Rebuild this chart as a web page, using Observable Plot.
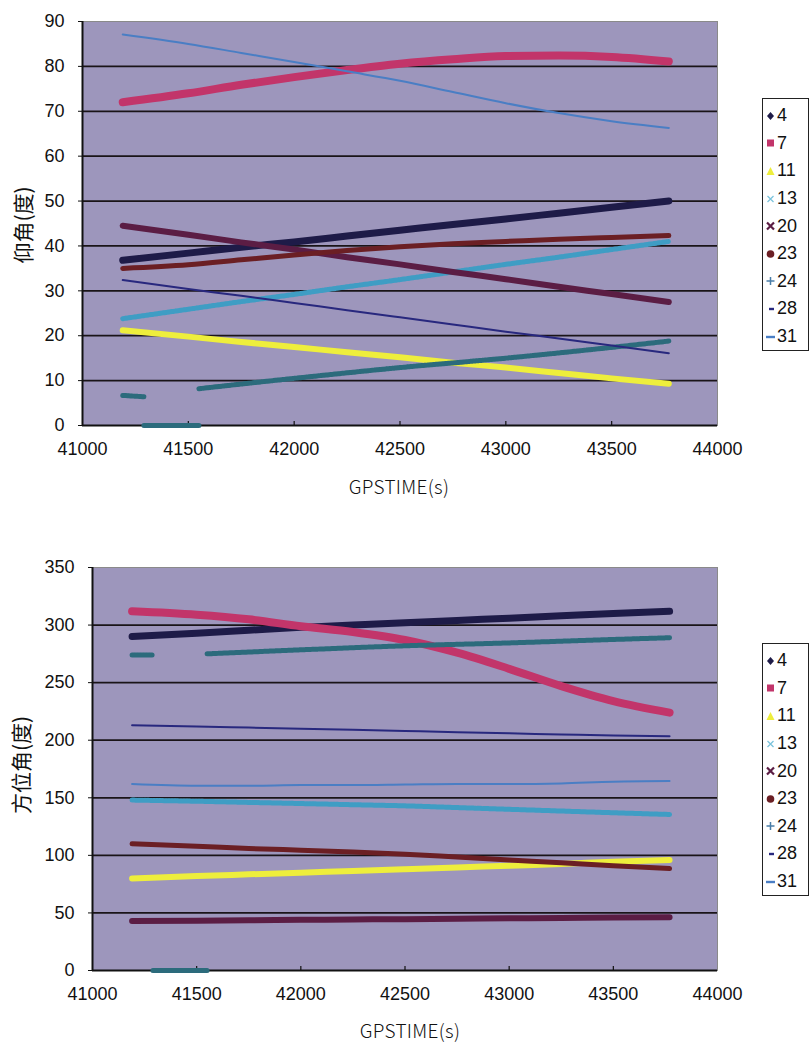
<!DOCTYPE html>
<html><head><meta charset="utf-8">
<script src="https://cdn.jsdelivr.net/npm/d3@7"></script>
<script src="https://cdn.jsdelivr.net/npm/@observablehq/plot@0.6"></script>
<style>
body{margin:0;background:#fff;}
#root{position:relative;width:812px;height:1045px;overflow:hidden;font-family:Arial,"Liberation Sans",sans-serif;}
.chart{position:absolute;left:0;}
.legend{position:absolute;left:762px;width:47px;border:1.5px solid #222;background:#fff;box-sizing:border-box;padding-top:3px;}
.legend .row{display:flex;align-items:center;height:27.6px;font-size:18px;color:#111;}
.legend svg{width:9px;height:10px;margin-left:3px;margin-right:2px;}
.ytitle{position:absolute;font-family:"Noto Sans CJK SC",sans-serif;font-size:21px;color:#111;transform:rotate(-90deg);transform-origin:center;white-space:nowrap;line-height:24px;height:24px;}
.xtitle{position:absolute;font-family:"Noto Sans CJK JP",sans-serif;font-weight:300;font-size:19px;color:#111;white-space:nowrap;transform:translateX(-50%);letter-spacing:0.3px;line-height:22px;}
</style></head>
<body><div id="root"></div>
<script>
// ---- series ----
const SERIES = ["4","7","11","13","20","23","24","28","31"];
const COLORS = ["#1e1b48","#c2356a","#eeee3c","#3f9dc4","#5b1d44","#6b1f24","#2c6b7c","#28287e","#4a7ec4"];
const WIDTHS = [7,8,6,5,6,5,5,2,2];
const DASH   = [null,null,null,"2,1",null,null,"2,1",null,null];

// ---- time samples (s) ----
const T = [41190,41500,41750,42000,42250,42500,42750,43000,43250,43500,43770];

// ---- elevation (deg) ----
const elev4  = [36.8,38.4,39.7,40.9,42.2,43.5,44.8,46.0,47.3,48.6,50.0];
const elev7  = [72.0,74.0,75.9,77.6,79.2,80.6,81.6,82.3,82.4,82.1,81.1];
const elev11 = [21.2,19.8,18.6,17.5,16.3,15.2,14.0,12.9,11.7,10.5,9.3];
const elev13 = [23.8,25.9,27.6,29.2,30.9,32.5,34.2,35.9,37.5,39.2,41.0];
const elev20 = [44.5,42.5,40.8,39.2,37.5,35.9,34.2,32.6,30.9,29.3,27.5];
const elev23 = [35.0,35.8,36.9,38.0,39.0,39.8,40.5,41.0,41.5,41.9,42.3];
const elev28 = [32.4,30.4,28.9,27.3,25.7,24.1,22.5,20.9,19.4,17.8,16.1];
const elev31 = [87.1,85.0,83.0,81.0,78.9,76.8,74.3,71.8,69.6,67.8,66.3];
// satellite 24 has gaps (zeros while not tracked)
const t24    = [[41190,41290],[41290,41550],[41550,42000,42500,43000,43500,43770]];
const elev24 = [[6.7,6.4],[0,0],[8.2,10.5,12.9,15.0,17.4,18.8]];

// ---- azimuth (deg) ----
const azi4  = [290,293,295.5,298,300,302,304,306,308,310,312];
const azi7  = [312,309,305,299,294,287,276,262,247,234,224];
const azi11 = [80,82,83.5,85,86.5,88,89.5,91,92.5,94.5,96];
const azi13 = [148,147,146,145,144,143,141.5,140,138.5,137,135.5];
const azi20 = [43,43.3,43.6,44,44.3,44.6,45,45.3,45.6,46,46.2];
const azi23 = [110,108,106,104.5,103,101,98.5,96,93.5,91,88.5];
const azi28 = [213,212,211,210,209,208,207,206,205,204,203.5];
const azi31 = [162,160.5,160.5,161,161,161.5,162,162,162.5,164,164.5];
const azi24 = [[274,274],[0,0],[275,278.5,282,284.5,287.5,289]];

// ---- ticks ----
const xTicks = [41000,41500,42000,42500,43000,43500,44000];
const elevTicks = [0,10,20,30,40,50,60,70,80,90];
const aziTicks = [0,50,100,150,200,250,300,350];

const BG = "#9d96bc";

function buildRows(vals, v24){
  const rows = [];
  SERIES.forEach((s,i)=>{
    if (s === "24") {
      t24.forEach((ts,k)=>ts.forEach((t,j)=>rows.push({s, seg:s+"_"+k, t, v:v24[k][j]})));
    } else {
      T.forEach((t,j)=>rows.push({s, seg:s, t, v:vals[i][j]}));
    }
  });
  return rows;
}

function chart({rows, yDomain, yTicks, marginLeft, marginTop, plotH, tickLen}){
  const marks = [
    Plot.frame({fill:BG, stroke:"#8a8a8a", strokeWidth:1}),
    Plot.ruleY(yTicks.slice(1,-1), {stroke:"#1a1418", strokeWidth:1.8}),
    Plot.ruleX(xTicks.slice(1,-1), {y1:yDomain[0], y2:yDomain[1]*tickLen, stroke:"#111", strokeWidth:1.2}),
    Plot.ruleY([yDomain[0]], {stroke:"#111", strokeWidth:2}),
    Plot.ruleX([xTicks[0]], {stroke:"#111", strokeWidth:2}),
    Plot.axisX({ticks:xTicks, tickSize:0, tickPadding:17, tickFormat:d=>String(d), fontSize:18, label:null}),
    Plot.axisY({ticks:yTicks, tickSize:4, tickPadding:14, tickFormat:d=>String(d), fontSize:18, label:null})
  ];
  SERIES.forEach((s,i)=>{
    marks.push(Plot.line(rows.filter(r=>r.s===s), {
      x:"t", y:"v", z:"seg", stroke:COLORS[i], strokeWidth:WIDTHS[i],
      strokeLinecap:"round", strokeLinejoin:"round", strokeDasharray:DASH[i], curve:"monotone-x"
    }));
  });
  return Plot.plot({
    width:740, height: marginTop+plotH+45,
    marginLeft, marginRight:23, marginTop, marginBottom:45,
    x:{domain:[41000,44000]}, y:{domain:yDomain},
    style:{fontFamily:"Arial, 'Liberation Sans', sans-serif", color:"#111", background:"transparent", overflow:"visible"},
    marks
  });
}

const root = document.getElementById("root");

const chartTop = chart({
  rows: buildRows([elev4,elev7,elev11,elev13,elev20,elev23,null,elev28,elev31], elev24),
  yDomain:[0,90], yTicks:elevTicks, marginLeft:82, marginTop:21, plotH:404, tickLen:0.01
});
chartTop.classList.add("chart"); chartTop.style.top = "0px"; root.appendChild(chartTop);

const chartBottom = chart({
  rows: buildRows([azi4,azi7,azi11,azi13,azi20,azi23,null,azi28,azi31], azi24),
  yDomain:[0,350], yTicks:aziTicks, marginLeft:92, marginTop:27, plotH:403, tickLen:0.01
});
chartBottom.classList.add("chart"); chartBottom.style.top = "540px"; root.appendChild(chartBottom);

// ---- titles ----
function addDiv(cls, text, css){
  const d = document.createElement("div"); d.className = cls; d.textContent = text;
  Object.assign(d.style, css); root.appendChild(d); return d;
}
addDiv("ytitle","仰角(度)",{left:"-28px", top:"213px", width:"100px", textAlign:"center"});
addDiv("ytitle","方位角(度)",{left:"-40px", top:"753px", width:"120px", textAlign:"center"});
addDiv("xtitle","GPSTIME(s)",{left:"399px", top:"475px"});
addDiv("xtitle","GPSTIME(s)",{left:"410px", top:"1019px"});

// ---- legends ----
const SYMBOLS = [
  c=>`<path d="M4.5 1 L8 5 L4.5 9 L1 5Z" fill="${c}"/>`,
  c=>`<rect x="1" y="1.5" width="7" height="7" fill="${c}"/>`,
  c=>`<path d="M4.5 1 L8.5 9 L0.5 9Z" fill="${c}"/>`,
  c=>`<path d="M1.5 2 L7.5 8 M7.5 2 L1.5 8" stroke="#7cc4dc" stroke-width="1.3"/>`,
  c=>`<path d="M1 1.5 L8 8.5 M8 1.5 L1 8.5" stroke="${c}" stroke-width="2.2"/>`,
  c=>`<circle cx="4.5" cy="5" r="3.8" fill="${c}"/>`,
  c=>`<path d="M4.5 1 V9 M0.5 5 H8.5" stroke="#4a7ea8" stroke-width="1.5"/>`,
  c=>`<path d="M3 5 H8" stroke="${c}" stroke-width="2.4"/>`,
  c=>`<path d="M0 5 H9" stroke="${c}" stroke-width="2.4"/>`
];
function legend(topPx){
  const box = document.createElement("div"); box.className = "legend"; box.style.top = topPx+"px";
  box.innerHTML = SERIES.map((s,i)=>`<div class="row"><svg viewBox="0 0 9 10">${SYMBOLS[i](COLORS[i])}</svg><span>${s}</span></div>`).join("");
  root.appendChild(box);
}
legend(98);
legend(643);
</script>
</body></html>
